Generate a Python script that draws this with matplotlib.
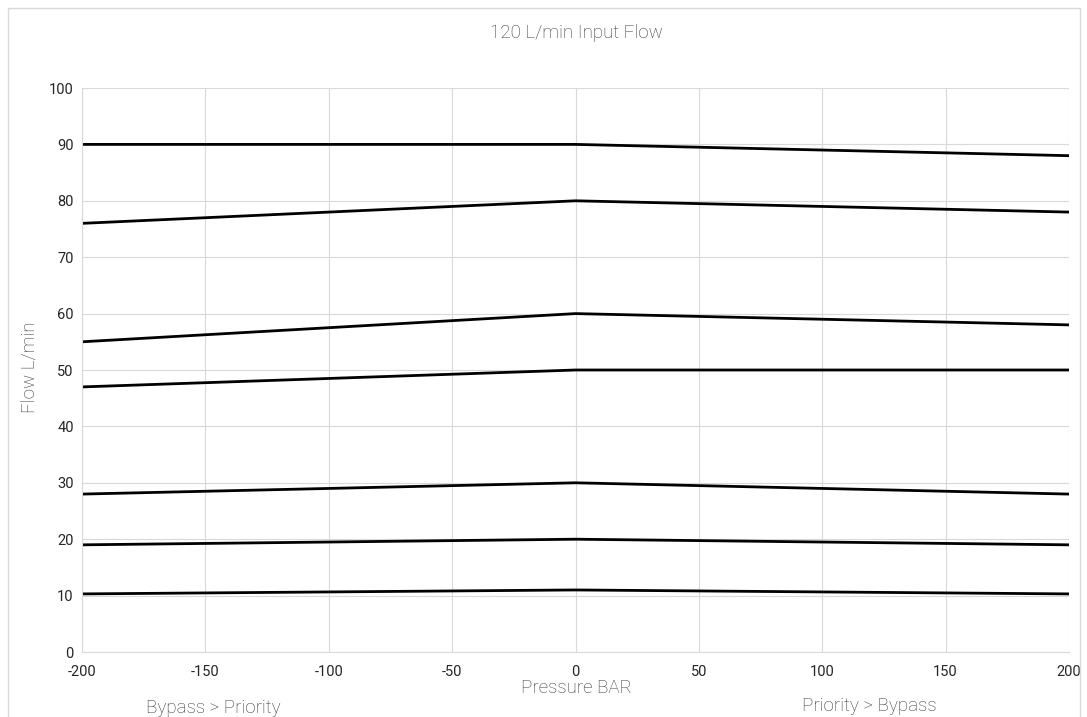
import matplotlib
matplotlib.use('Agg')
import matplotlib.pyplot as plt
from matplotlib.patches import Rectangle
from matplotlib.ticker import FuncFormatter

# pressure points (BAR) and flow curves (L/min)
pressure = [-200, 0, 200]
flow_curves = [
    [90, 90, 88],
    [76, 80, 78],
    [55, 60, 58],
    [47, 50, 50],
    [28, 30, 28],
    [19, 20, 19],
    [10.3, 11, 10.3],
]
x_ticks = [-200, -150, -100, -50, 0, 50, 100, 150, 200]
y_ticks = [0, 10, 20, 30, 40, 50, 60, 70, 80, 90, 100]

plt.rcParams['font.family'] = ['Roboto', 'DejaVu Sans']

fig = plt.figure(figsize=(10.87, 7.17), dpi=100)
W, H = 1087, 717

# outer chart border
fig.patches.append(Rectangle((8 / W, -0.05), (1080 - 8) / W, 1.05 - 8 / H,
                             transform=fig.transFigure, fill=False,
                             edgecolor='#d9d9d9', linewidth=1))

ax = fig.add_axes([82 / W, 1 - 652 / H, (1069 - 82) / W, (652 - 88) / H])

for flow in flow_curves:
    ax.plot(pressure, flow, color='black', linewidth=2.0, solid_capstyle='butt')

ax.set_xlim(-200, 200)
ax.set_ylim(0, 100)
ax.set_xticks(x_ticks)
ax.set_yticks(y_ticks)
ax.xaxis.set_major_formatter(FuncFormatter(lambda v, p: '%d' % v))
ax.grid(True, color='#d9d9d9', linewidth=0.8)
ax.set_axisbelow(True)
for s in ax.spines.values():
    s.set_color('#d9d9d9')
    s.set_linewidth(0.8)
ax.spines['top'].set_visible(False)
ax.spines['right'].set_visible(False)
ax.tick_params(length=0, labelsize=10.5, labelcolor='#262626', pad=6)
ax.tick_params(axis='x', pad=9)

txt = dict(fontsize=13.5, color='#3a3a3a', fontweight='light')
fig.text(576 / W, 1 - 33 / H, '120 L/min Input Flow', ha='center', va='center', **txt)
fig.text(30 / W, 1 - 367 / H, 'Flow L/min', ha='center', va='center', rotation=90, **txt)
fig.text(576 / W, 1 - 688 / H, 'Pressure BAR', ha='center', va='center', **txt)
fig.text(213 / W, 1 - 708 / H, 'Bypass > Priority', ha='center', va='center', **txt)
fig.text(869 / W, 1 - 706 / H, 'Priority > Bypass', ha='center', va='center', **txt)

fig.savefig('out.png', dpi=100)
